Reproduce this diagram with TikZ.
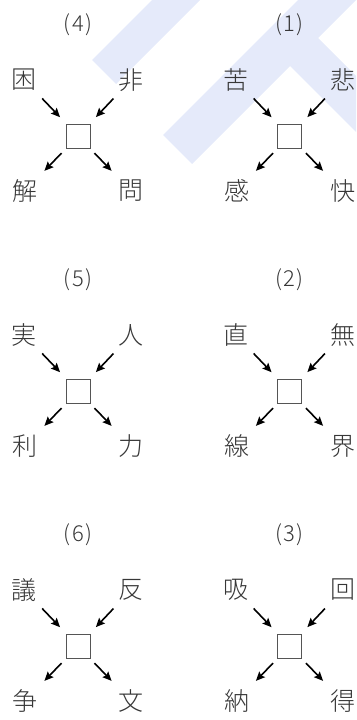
\documentclass[tikz,border=0pt]{standalone}
\usepackage{fontspec}
\newfontfamily\cjk{Noto Sans CJK JP Light}
\usetikzlibrary{arrows.meta}
\definecolor{wm}{RGB}{229,234,250}
\definecolor{txt}{RGB}{55,55,55}
\newcommand\kpanel[8]{%
  \node[box] (#1s) at (#2,#3) {};
  \node[lab] (#1l) at (#2,#3-111) {(\hspace{1.5pt}#4\hspace{1.5pt})};
  \node[ch] (#1a) at (#2-53.5,#3-56) {#5};
  \node[ch] (#1b) at (#2+53,#3-56) {#6};
  \node[ch] (#1c) at (#2-53,#3+55) {#7};
  \node[ch] (#1d) at (#2+53,#3+55) {#8};
  \draw[arrin] (#1a.center) -- (#1s.center);
  \draw[arrin] (#1b.center) -- (#1s.center);
  \draw[arrout] (#1s.center) -- (#1c.center);
  \draw[arrout] (#1s.center) -- (#1d.center);
}
\begin{document}
\begin{tikzpicture}[x=1pt,y=-1pt,
  ch/.style={font=\cjk\fontsize{25}{25}\selectfont, text=txt, inner sep=0pt},
  lab/.style={font=\cjk\fontsize{22}{22}\selectfont, text=txt, inner sep=0pt},
  box/.style={draw=txt!85, line width=1pt, minimum size=24pt, inner sep=0pt},
  arrbase/.style={-{Stealth[length=9pt,width=8pt,inset=1.5pt]}, line width=1.6pt, black},
  arrin/.style={arrbase, shorten <=25.5pt, shorten >=26pt},
  arrout/.style={arrbase, shorten <=23.7pt, shorten >=28pt}]
\useasboundingbox (0,0) rectangle (356,720);
% watermark
\fill[wm] (92,60) -- (152,0) -- (200,0) -- (116,84) -- cycle;
\fill[wm] (163,135) -- (298,0) -- (356,0) -- (192,164) -- cycle;
\fill[wm] (310,30) -- (356,76) -- (356,132) -- (282,58) -- cycle;
% panels
\kpanel{p4}{78}{136}{4}{困}{非}{解}{問}
\kpanel{p1}{289.5}{136}{1}{苦}{悲}{感}{快}
\kpanel{p5}{78}{391}{5}{実}{人}{利}{力}
\kpanel{p2}{289.5}{391}{2}{直}{無}{線}{界}
\kpanel{p6}{78}{646}{6}{議}{反}{争}{文}
\kpanel{p3}{289.5}{646}{3}{吸}{回}{納}{得}
\end{tikzpicture}
\end{document}
